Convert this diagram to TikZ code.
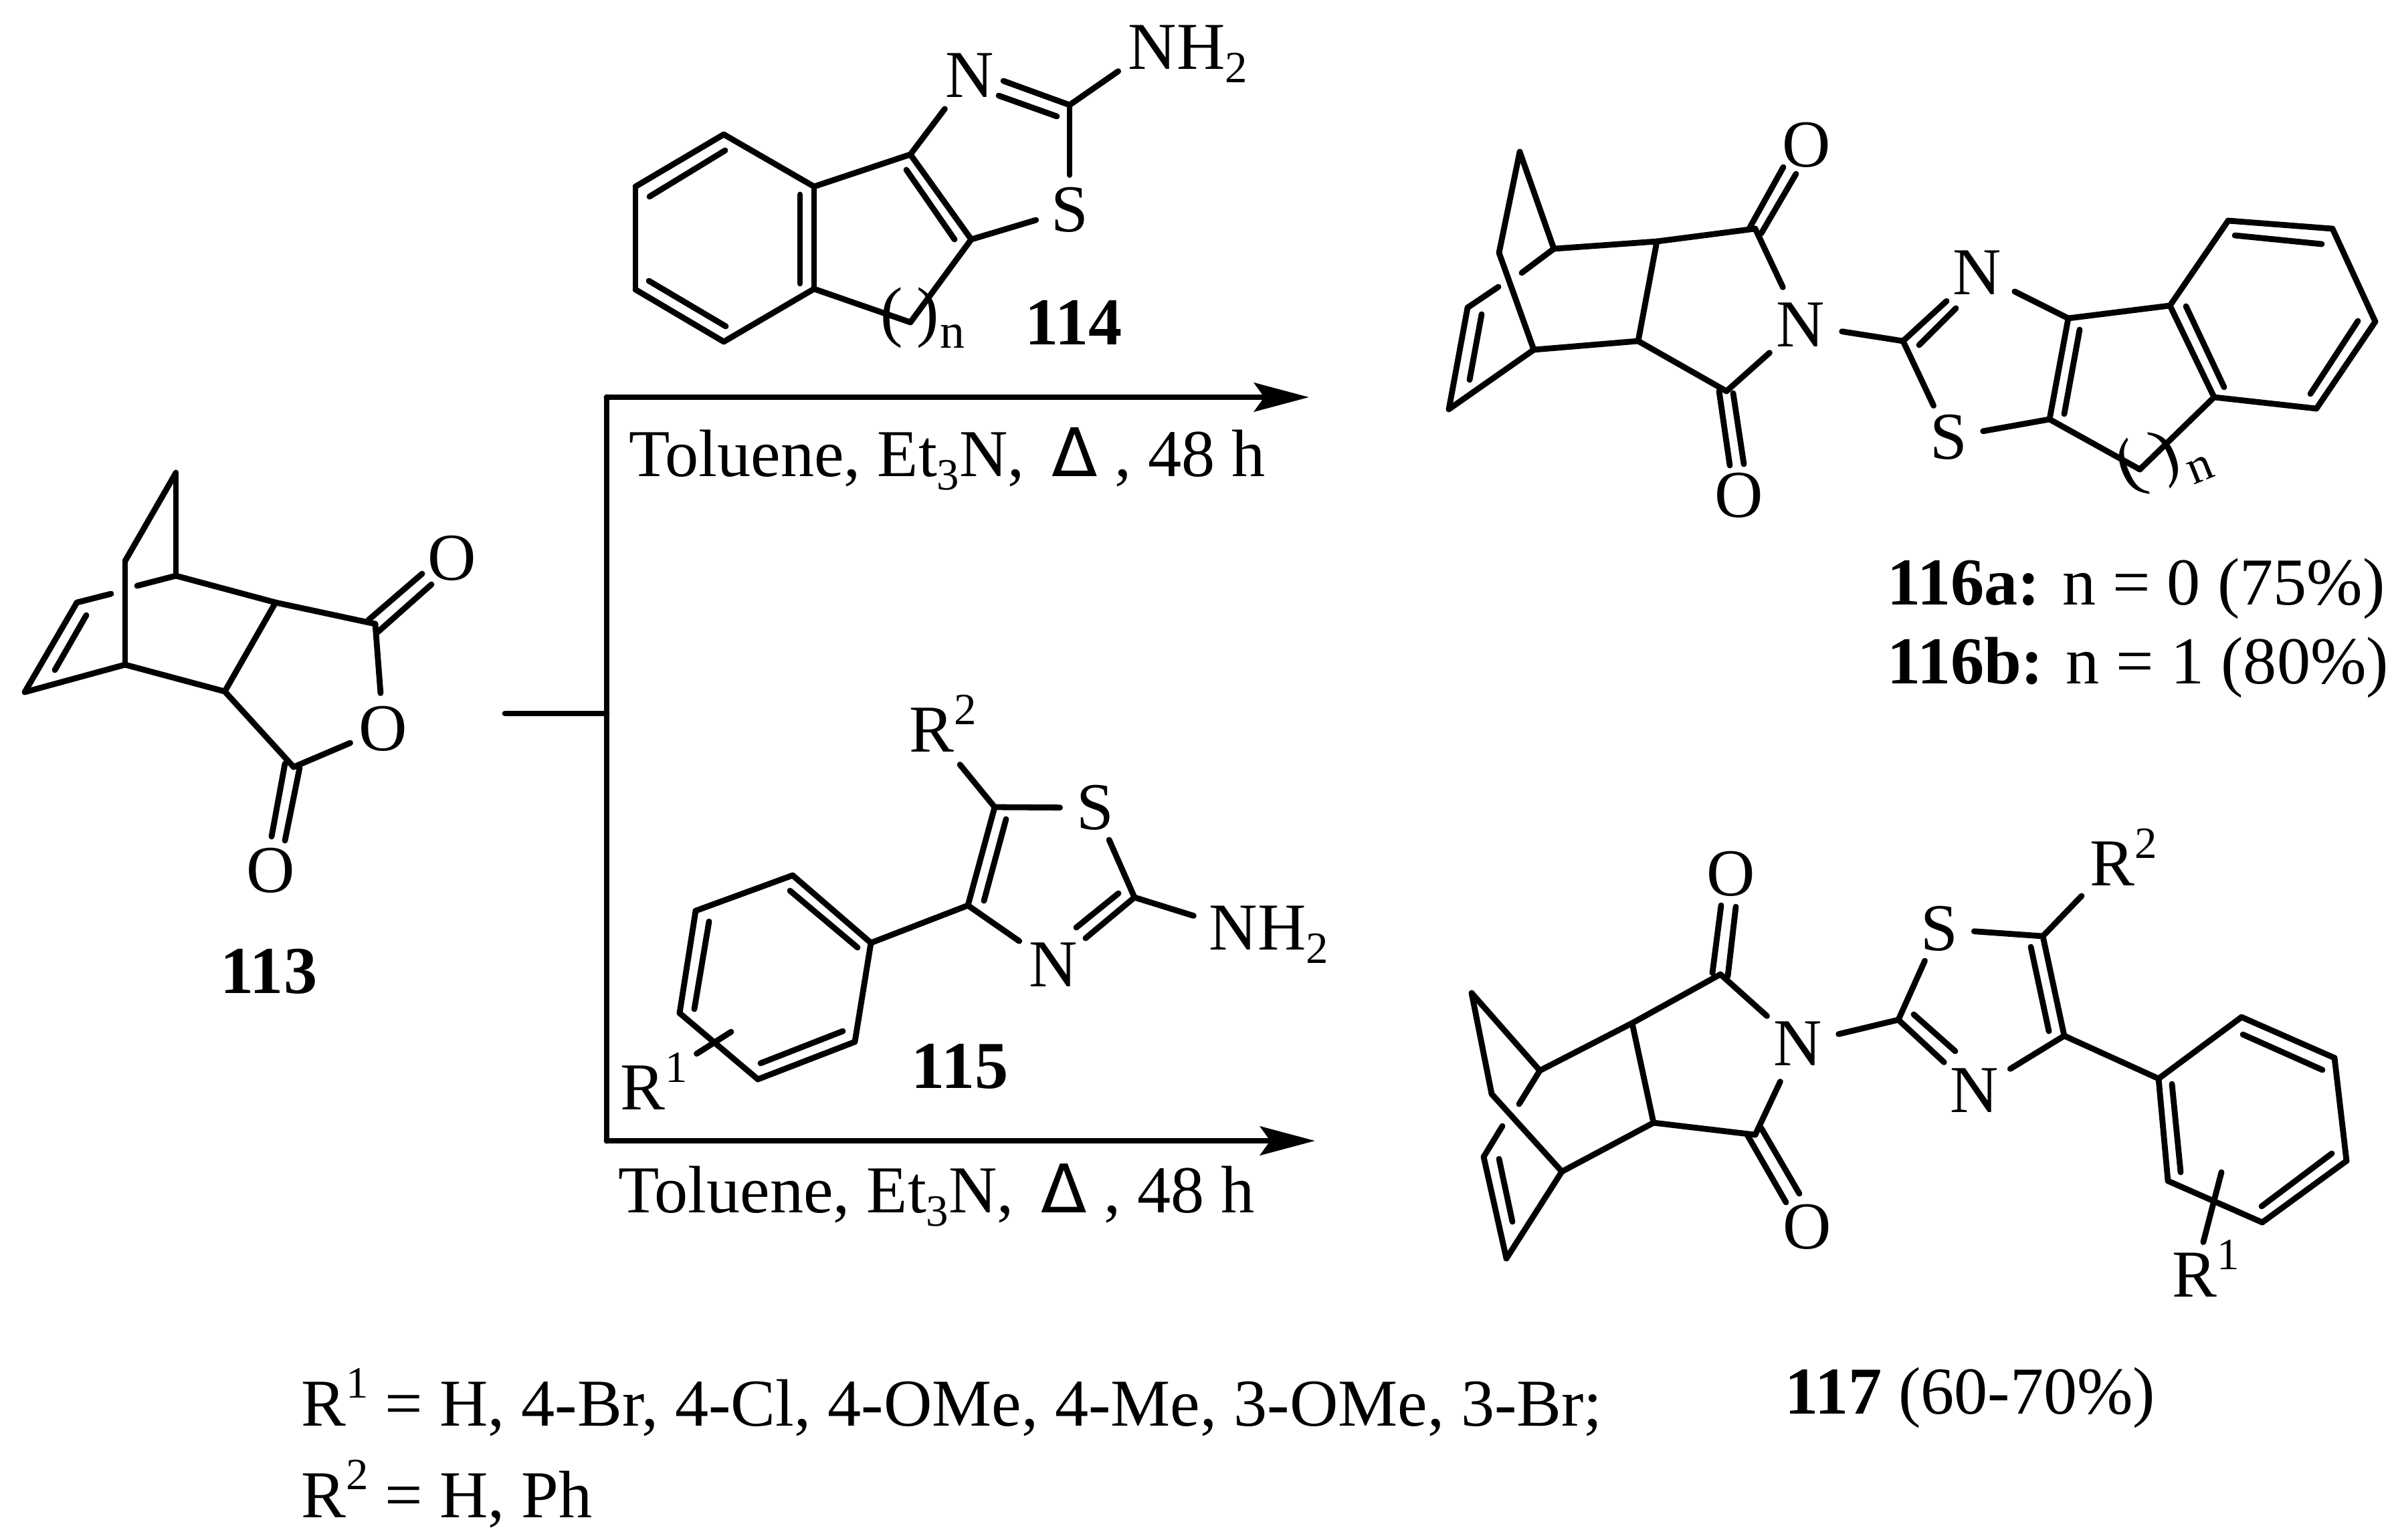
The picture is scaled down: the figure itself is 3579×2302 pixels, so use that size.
\documentclass[tikz,border=0pt]{standalone}
\usepackage{fontspec}
\setmainfont{Liberation Serif}
\newfontfamily\heatfont{DejaVu Sans}
\usetikzlibrary{arrows.meta}
\newcommand{\supnum}[1]{\raisebox{.41em}{\fontsize{19}{19}\selectfont #1}}
\newcommand{\subnum}[1]{\raisebox{-.2em}{\fontsize{19}{19}\selectfont #1}}
\newcommand{\atomsup}[1]{\smash{\rlap{\supnum{#1}}}}
\newcommand{\atomsub}[1]{\smash{\rlap{H\subnum{#1}}}}
\newcommand{\heatsign}{\hspace{.16em}{\heatfont Δ}\hspace{.25em}}

\begin{document}
\begin{tikzpicture}[x=0.01cm,y=-0.01cm,line width=2.5pt,line cap=round,
		>={Stealth[length=.82cm,width=.43cm,inset=.15cm]},
		font=\fontsize{28.5}{34}\selectfont,
		atom/.style={circle,inner sep=0pt,minimum size=.96cm},
		natom/.style={atom,minimum size=1.16cm},
		ratom/.style={atom,minimum size=1.24cm},
		lbl/.style={inner sep=0pt,anchor=base west},
		small/.style={inner sep=0pt,font=\fontsize{21}{21}\selectfont}]
	\useasboundingbox (0,0) rectangle (3579,2302);

	\foreach \n/\x/\y in {A1/263/707,A2/187/839,A3/263/861,A4/412/901,A5/561/933,A6/187/994,A7/336/1034,A8/439/1147,A9/115/901,A10/37/1035,
		A11/205/876,A12/166/888,A13/129/920,A14/82/1002,
		Aa/551/927,Ab/631/858,Ac/565/945,Ad/645/874,Ae/426/1142,Af/406/1251,Ag/448/1148,Ah/426/1257}
		\coordinate (\n) at (\x,\y);
	\node[atom] (AO1) at (676,835) {O};
	\node[atom] (AO2) at (573,1090) {O};
	\node[atom] (AO3) at (405,1302) {O};
	\node[lbl] (Alab) at (325,1485) {\bfseries 113};

	\foreach \n/\x/\y in {B1/1082/201,B2/950/279,B3/950/433,B4/1082/511,B5/1217/432,B6/1217/279,B7/1361/231,B8/1452/358,B9/1361/482,B10/1599/157,
		Ba/971/294,Bb/1084/225,Bc/970/420,Bd/1085/488,Be/1196/291,Bf/1196/424,Bg/1355/254,Bh/1427/358,Bi/1500/121,Bj/1493/143,Bk/1580/174}
		\coordinate (\n) at (\x,\y);
	\node[natom] (BN) at (1450,113) {N};
	\node[atom] (BS) at (1599,314) {S};
	\node[natom] (BN2) at (1723,71) {N\atomsub{2}};
	\node[inner sep=0pt] (Bp1) at (1333,475) {(};
	\node[inner sep=0pt] (Bp2) at (1387,475) {)};
	\node[small,anchor=base] (Bn) at (1424,520) {n};
	\node[lbl] (Blab) at (1528,515) {\bfseries 114};

	\foreach \n/\x/\y in {C1/2272/227,C2/2241/378,C3/2323/372,C4/2477/361,C5/2624/342,C6/2293/523,C7/2449/510,C8/2581/585,C9/2194/460,C10/2166/612,
		C11/2275/408,C12/2240/429,C13/2215/470,C14/2197/568,
		Ca/2616/340,Cb/2666/250,Cc/2633/349,Cd/2685/260,Ce/2570/585,Cf/2586/696,Cg/2591/588,Ch/2607/694,
		Cq/2845/510,Cr/3092/476,Cs/3064/627,Ct/3199/702,
		Cu/3244/457,Cv/3331/330,Cw/3487/342,Cx/3551/481,Cy/3463/611,Cz/3310/594,
		Di/2869/516,Dj/2924/461,Dk/3109/493,Dl/3086/619,Dm/3268/458,Dn/3325/579,Do/3341/352,Dp/3471/365,Dq/3525/480,Dr/3454/589}
		\coordinate (\n) at (\x,\y);
	\node[atom] (CO1) at (2701,217) {O};
	\node[atom] (CO2) at (2600,741) {O};
	\node[natom] (CN1) at (2692,486) {N};
	\node[natom] (CN2) at (2956,408) {N};
	\node[atom] (CS) at (2913,654) {S};
	\node[inner sep=0pt,rotate=22] (Cp1) at (3185,702) {(};
	\node[inner sep=0pt,rotate=22] (Cp2) at (3240,684) {)};
	\node[small,rotate=22] (Cn) at (3290,702) {n};
	\node[lbl] (Clab1) at (2817,904) {\textbf{116a:} n = 0 (75\%)};
	\node[lbl] (Clab2) at (2817,1022) {\textbf{116b:} n = 1 (80\%)};

	\foreach \n/\x/\y in {F1/1302/1410,F2/1185/1309,F3/1040/1362,F4/1016/1515,F5/1133/1614,F6/1278/1558,F7/1447/1354,F8/1487/1207,F9/1696/1342,
		Fa/1282/1417,Fb/1181/1332,Fc/1060/1378,Fd/1038/1509,Fe/1137/1590,Ff/1260/1542,Fg/1471/1347,Fh/1504/1225,Fi/1672/1336,Fj/1609/1387,Fk/1093/1543}
		\coordinate (\n) at (\x,\y);
	\node[atom] (FS) at (1637,1208) {S};
	\node[natom] (FN) at (1575,1443) {N};
	\node[natom] (FN2) at (1844,1388) {N\atomsub{2}};
	\node[ratom] (FR2) at (1393,1092) {R\atomsup{2}};
	\node[atom,minimum size=1.82cm] (FR1) at (961,1627) {R\atomsup{1}};
	\node[lbl] (Flab) at (1358,1627) {\bfseries 115};

	\foreach \n/\x/\y in {E1/2200/1485,E2/2230/1636,E3/2302/1601,E4/2440/1530,E5/2572/1457,E6/2335/1752,E7/2472/1679,E8/2624/1697,E9/2218/1730,E10/2252/1882,
		E11/2271/1651,E12/2246/1684,E13/2241/1733,E14/2261/1827,
		Ea/2560/1455,Eb/2573/1354,Ec/2583/1460,Ed/2595/1356,Ee/2612/1697,Ef/2670/1798,Eg/2633/1687,Eh/2690/1785,
		Eq/2838/1525,Er/3054/1400,Es/3086/1549,
		Eu/3227/1613,Ev/3351/1521,Ew/3490/1582,Ex/3508/1736,Ey/3382/1828,Ez/3241/1766,
		Gi/2861/1517,Gj/2923/1572,Gk/3036/1416,Gl/3063/1542,Gm/3247/1621,Gn/3260/1753,Go/3353/1547,Gp/3472/1600,Gq/3486/1725,Gr/3381/1804,Gs/3321/1753}
		\coordinate (\n) at (\x,\y);
	\node[atom] (EO1) at (2588,1307) {O};
	\node[atom] (EO2) at (2702,1835) {O};
	\node[natom] (EN1) at (2688,1561) {N};
	\node[natom] (EN2) at (2952,1631) {N};
	\node[atom] (ES) at (2899,1389) {S};
	\node[ratom] (ER2) at (3158,1292) {R\atomsup{2}};
	\node[atom,minimum size=.9cm] (ER1) at (3281,1907) {R\atomsup{1}};
	\node[lbl] (Elab) at (2664,2114) {\textbf{117} (60-70\%)};

	\foreach \m in {A,C,E}
		\foreach \a/\b in {1/2,1/3,3/4,4/5,4/7,2/6,6/7,7/8,6/10,10/9,3/11,12/9,13/14}
			\draw (\m\a) -- (\m\b);
	\foreach \m in {C,E}
		\foreach \a/\b in {a/b,c/d,e/f,g/h}
			\draw (\m\a) -- (\m\b);
	\foreach \a/\b in {Aa/Ab,Ac/Ad,Ae/Af,Ag/Ah,A5/AO2,A8/AO2,
		B1/B2,B2/B3,B3/B4,B4/B5,B5/B6,B6/B1,B6/B7,B7/B8,B8/B9,B9/B5,B7/BN,B10/BS,B8/BS,B10/BN2,B10/Bi,
		Ba/Bb,Bc/Bd,Be/Bf,Bg/Bh,Bj/Bk,
		C5/CN1,C8/CN1,Cq/CN1,Cq/CN2,Cq/CS,Cr/CN2,Cs/CS,Cr/Cs,Cr/Cu,Cu/Cv,Cv/Cw,Cw/Cx,Cx/Cy,Cy/Cz,Cz/Cu,Cs/Ct,Ct/Cz,
		Di/Dj,Dk/Dl,Dm/Dn,Do/Dp,Dq/Dr,
		F1/F2,F2/F3,F3/F4,F4/F5,F5/F6,F6/F1,F1/F7,F7/F8,F8/FS,F8/FR2,F9/FS,F9/FN,F7/FN,F9/FN2,Fk/FR1,
		Fa/Fb,Fc/Fd,Fe/Ff,Fg/Fh,Fi/Fj,
		E5/EN1,E8/EN1,Eq/EN1,Eq/ES,Eq/EN2,Er/ES,Er/ER2,Er/Es,Es/EN2,Es/Eu,Eu/Ev,Ev/Ew,Ew/Ex,Ex/Ey,Ey/Ez,Ez/Eu,Gs/ER1,
		Gi/Gj,Gk/Gl,Gm/Gn,Go/Gp,Gq/Gr}
		\draw (\a) -- (\b);

	\coordinate (stub) at (755,1067);
	\coordinate (junc) at (907,1067);
	\coordinate (top) at (907,594);
	\coordinate (bot) at (907,1706);
	\coordinate (tipA) at (1957,594);
	\coordinate (tipB) at (1966,1706);
	\draw (stub) -- (junc);
	\draw (top) -- (bot);
	\draw[->] (top) -- (tipA);
	\draw[->] (bot) -- (tipB);

	\node[lbl] (condA) at (936,712) {Toluene, Et\subnum{3}N, \heatsign, 48 h};
	\node[lbl] (condB) at (920,1813) {Toluene, Et\subnum{3}N, \heatsign, 48 h};
	\node[lbl] (defA) at (446,2132) {R\supnum{1} = H, 4-Br, 4-Cl, 4-OMe, 4-Me, 3-OMe, 3-Br;};
	\node[lbl] (defB) at (446,2269) {R\supnum{2} = H, Ph};
\end{tikzpicture}
\end{document}
